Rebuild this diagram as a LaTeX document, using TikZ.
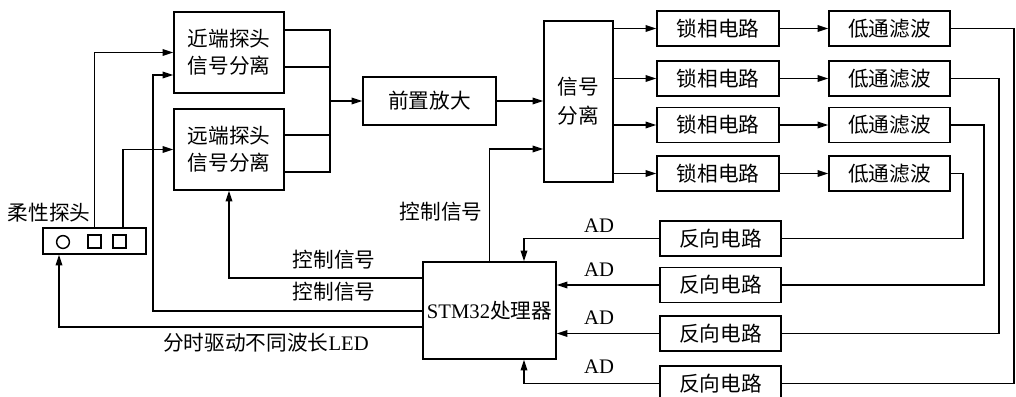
\documentclass[tikz,border=0pt]{standalone}
\usepackage{fontspec}
\setmainfont{Liberation Serif}
\newfontfamily\cjk{Noto Sans CJK SC}
\usetikzlibrary{arrows.meta,calc}
\begin{document}
\begin{tikzpicture}[x=0.75pt,y=-0.75pt,
  every node/.style={font=\cjk\fontsize{15.5}{20.5}\selectfont, inner sep=0pt},
  blk/.style={draw, line width=1.2pt, align=center},
  ln/.style={line width=1.1pt},
  arr/.style={line width=1.1pt, -{Triangle[length=8pt,width=5pt]}},
  lbl/.style={}]
\useasboundingbox (0,0) rectangle (1016,396);

% boxes
\node[blk, minimum width=82.5pt, minimum height=60.75pt] (near) at (229,52.5) {近端探头\\信号分离};
\node[blk, minimum width=82.5pt, minimum height=60.75pt] (far) at (229,149.5) {远端探头\\信号分离};
\node[blk, minimum width=99.75pt, minimum height=36pt] (pre) at (429.5,101) {前置放大};
\node[blk, minimum width=51.75pt, minimum height=120.75pt] (sep) at (578.5,101.5) {信号\\[1pt]分离};
\foreach \i/\y in {1/28.5,2/78.5,3/125,4/173.5}{
  \node[blk, minimum width=91.5pt, minimum height=26.25pt] (lock\i) at (718,\y) {锁相电路};
  \node[blk, minimum width=90.75pt, minimum height=26.25pt] (lp\i) at (889.5,\y) {低通滤波};
}
\foreach \i/\y in {1/238.5,2/285,3/333.5,4/383.5}{
  \node[blk, minimum width=90.75pt, minimum height=26.25pt] (inv\i) at (720.5,\y) {反向电路};
}
\node[blk, minimum width=99.75pt, minimum height=72.75pt] (stm) at (489.5,310.5) {{\rmfamily STM32}处理器};
\node[blk, minimum width=77.25pt, minimum height=19.5pt] (probe) at (94.5,241) {};
\draw[line width=1.1pt] (63,242) circle[radius=4.8pt];
\draw[line width=1.1pt] (88,235) rectangle (101,248);
\draw[line width=1.1pt] (113,235) rectangle (126,248);

% labels
\node[lbl] (lprobe) at (49,213) {柔性探头};
\node[lbl] (lc1) at (441,212) {控制信号};
\node[lbl] (lc2) at (334,260) {控制信号};
\node[lbl] (lc3) at (334,292) {控制信号};
\node[lbl] (lled) at (266,343) {分时驱动不同波长{\rmfamily LED}};
\foreach \i/\y in {1/226,2/270,3/318,4/367}{
  \node[lbl, font=\rmfamily\fontsize{15.5}{20.5}\selectfont] (ad\i) at (599,\y) {AD};
}

% probe to separators
\draw[arr] (probe.north) |- (near.west);
\draw[arr] ($(probe.north)+(28.5,0)$) |- (far.west);

% control lines from STM32
\draw[arr] ($(stm.west)+(0,0.5)$) -| ($(near.west)+(-20,22.5)$) -- ($(near.west)+(0,22.5)$);
\draw[arr] ($(stm.west)+(0,-32.5)$) -| (far.south);
\draw[arr] ($(stm.west)+(0,16.5)$) -| ($(probe.south)+(-35.5,0)$);
\draw[arr] (stm.north) |- ($(sep.west)+(0,47.5)$);

% separators to preamp
\draw[ln] ($(near.east)+(0,-22.5)$) -| ($(far.east)+(45,22.5)$) -- ($(far.east)+(0,22.5)$);
\draw[ln] ($(near.east)+(0,14.5)$) -- ++(45,0);
\draw[ln] ($(far.east)+(0,-14.5)$) -- ++(45,0);
\coordinate (bus) at (329,101);
\draw[arr] (bus) -- (pre.west);
\draw[arr] (pre.east) -- (pre.east -| sep.west);

% signal separation to lock-in and low-pass
\foreach \i in {1,2,3,4}{
  \draw[arr] (sep.east |- lock\i.west) -- (lock\i.west);
  \draw[arr] (lock\i.east) -- (lp\i.west);
}

% low-pass to inverters
\draw[ln] (lp1.east) -| ($(inv4.east)+(232,0)$) -- (inv4.east);
\draw[ln] (lp2.east) -| ($(inv3.east)+(217,0)$) -- (inv3.east);
\draw[ln] (lp3.east) -| ($(inv2.east)+(202,0)$) -- (inv2.east);
\draw[ln] (lp4.east) -| ($(inv1.east)+(181,0)$) -- (inv1.east);

% inverters to STM32
\draw[arr] (inv1.west) -| ($(stm.north)+(34.5,0)$);
\draw[arr] (inv2.west) -- (inv2.west -| stm.east);
\draw[arr] (inv3.west) -- (inv3.west -| stm.east);
\draw[arr] (inv4.west) -| ($(stm.south)+(34.5,0)$);
\end{tikzpicture}
\end{document}
